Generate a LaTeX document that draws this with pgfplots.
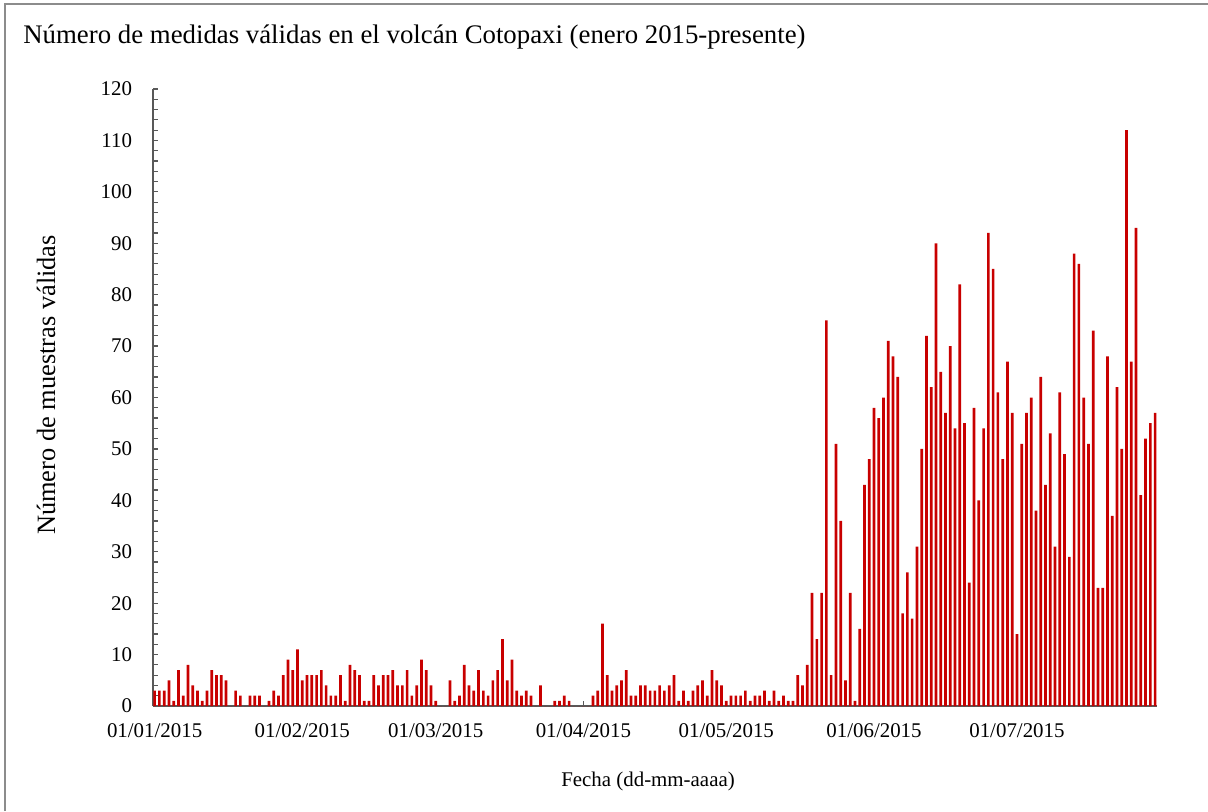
\documentclass[border=0pt]{standalone}
\usepackage{pgfplots}
\pgfplotsset{compat=1.18}
\usepackage{pgfplotstable}
\usepackage{fontspec}
\setmainfont{Liberation Serif}
\definecolor{barred}{RGB}{200,0,0}
\definecolor{axgray}{RGB}{89,89,89}
\definecolor{framegray}{RGB}{140,140,140}

\pgfplotstableread{
d v
0 3
1 3
2 3
3 5
4 1
5 7
6 2
7 8
8 4
9 3
10 1
11 3
12 7
13 6
14 6
15 5
16 0
17 3
18 2
19 0
20 2
21 2
22 2
23 0
24 1
25 3
26 2
27 6
28 9
29 7
30 11
31 5
32 6
33 6
34 6
35 7
36 4
37 2
38 2
39 6
40 1
41 8
42 7
43 6
44 1
45 1
46 6
47 4
48 6
49 6
50 7
51 4
52 4
53 7
54 2
55 4
56 9
57 7
58 4
59 1
60 0
61 0
62 5
63 1
64 2
65 8
66 4
67 3
68 7
69 3
70 2
71 5
72 7
73 13
74 5
75 9
76 3
77 2
78 3
79 2
80 0
81 4
82 0
83 0
84 1
85 1
86 2
87 1
88 0
89 0
90 0
91 0
92 2
93 3
94 16
95 6
96 3
97 4
98 5
99 7
100 2
101 2
102 4
103 4
104 3
105 3
106 4
107 3
108 4
109 6
110 1
111 3
112 1
113 3
114 4
115 5
116 2
117 7
118 5
119 4
120 1
121 2
122 2
123 2
124 3
125 1
126 2
127 2
128 3
129 1
130 3
131 1
132 2
133 1
134 1
135 6
136 4
137 8
138 22
139 13
140 22
141 75
142 6
143 51
144 36
145 5
146 22
147 1
148 15
149 43
150 48
151 58
152 56
153 60
154 71
155 68
156 64
157 18
158 26
159 17
160 31
161 50
162 72
163 62
164 90
165 65
166 57
167 70
168 54
169 82
170 55
171 24
172 58
173 40
174 54
175 92
176 85
177 61
178 48
179 67
180 57
181 14
182 51
183 57
184 60
185 38
186 64
187 43
188 53
189 31
190 61
191 49
192 29
193 88
194 86
195 60
196 51
197 73
198 23
199 23
200 68
201 37
202 62
203 50
204 112
205 67
206 93
207 41
208 52
209 55
210 57
}\datatable

\begin{document}
\begin{tikzpicture}
\useasboundingbox (0,0) rectangle (604pt,405.5pt);
\draw[framegray, line width=0.8pt] (2.5pt,0) -- (2.5pt,403.5pt) -- (604pt,403.5pt);
\begin{axis}[
  at={(76.5pt,52.5pt)}, anchor=south west,
  scale only axis, width=502pt, height=308.5pt,
  xmin=-0.34, xmax=210.4, ymin=0, ymax=120,
  axis x line*=bottom, axis y line*=left,
  axis line style={axgray, line width=0.8pt},
  ybar, bar width=1.35pt,
  ytick={0,10,...,120}, minor y tick num=4,
  xtick={0,31,59,90,120,151,181},
  xticklabels={01/01/2015,01/02/2015,01/03/2015,01/04/2015,01/05/2015,01/06/2015,01/07/2015},
  tick align=inside,
  major tick length=2.3pt, minor tick length=2.3pt,
  tick style={axgray, line width=0.6pt},
  /pgf/number format/assume math mode=true,
  every tick label/.append style={inner sep=0pt, outer sep=0pt, font=\fontsize{10.45}{12}\selectfont, text=black},
  yticklabel style={anchor=east, xshift=-10.5pt},
  xticklabel style={anchor=base, yshift=-15.5pt},
]
\addplot[fill=barred, draw=none] table[x=d, y=v] {\datatable};
\end{axis}
\node[anchor=base west, inner sep=0pt, font=\fontsize{13.4}{16}\selectfont] at (11.5pt,384pt) {Número de medidas válidas en el volcán Cotopaxi (enero 2015-presente)};
\node[anchor=base, inner sep=0pt, font=\fontsize{10.45}{12}\selectfont] at (324pt,12.5pt) {Fecha (dd-mm-aaaa)};
\node[rotate=90, anchor=base, inner sep=0pt, font=\fontsize{13.2}{15}\selectfont] at (27.5pt,213pt) {Número de muestras válidas};
\end{tikzpicture}
\end{document}
